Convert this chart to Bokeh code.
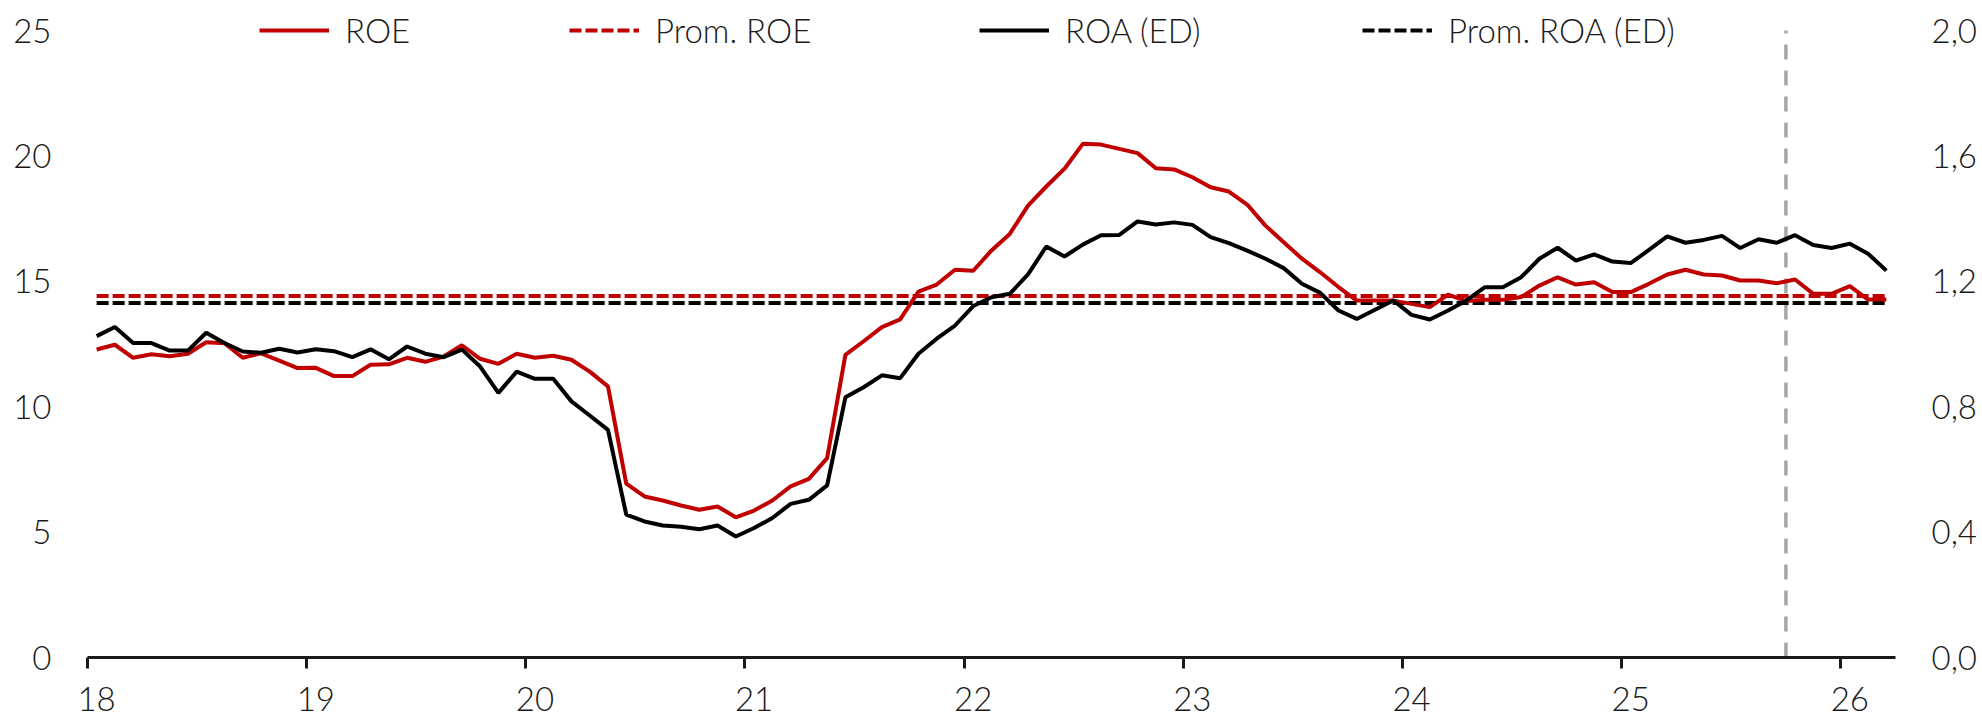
from bokeh.plotting import figure
from bokeh.models import (Range1d, LinearAxis, FixedTicker, CustomJSTickFormatter,
                          Legend, LegendItem)
from bokeh.embed import file_html
from bokeh.resources import INLINE

# ---- data (monthly, Jan-2018 .. Mar-2026) ----
roe = [12.28, 12.47, 11.95, 12.09, 12.01, 12.11, 12.57, 12.53, 11.95, 12.13, 11.84, 11.54,
       11.55, 11.22, 11.22, 11.67, 11.69, 11.95, 11.79, 12.00, 12.45, 11.91, 11.71, 12.11,
       11.95, 12.03, 11.87, 11.40, 10.81, 6.93, 6.42, 6.26, 6.06, 5.89, 6.02, 5.59,
       5.86, 6.26, 6.82, 7.12, 7.95, 12.07, 12.61, 13.17, 13.48, 14.59, 14.87, 15.46,
       15.42, 16.23, 16.89, 18.02, 18.78, 19.49, 20.48, 20.45, 20.28, 20.11, 19.51, 19.46,
       19.15, 18.75, 18.58, 18.06, 17.22, 16.56, 15.90, 15.36, 14.77, 14.23, 14.23, 14.23,
       14.10, 13.97, 14.47, 14.21, 14.26, 14.26, 14.37, 14.83, 15.16, 14.87, 14.96, 14.57,
       14.57, 14.90, 15.27, 15.46, 15.27, 15.23, 15.03, 15.03, 14.92, 15.07, 14.50, 14.50,
       14.81, 14.27, 14.27]
roa = [1.025, 1.054, 1.003, 1.003, 0.979, 0.979, 1.036, 1.003, 0.976, 0.972, 0.985, 0.973,
       0.983, 0.977, 0.958, 0.983, 0.951, 0.992, 0.969, 0.958, 0.982, 0.928, 0.844, 0.912,
       0.889, 0.889, 0.817, 0.772, 0.726, 0.456, 0.434, 0.421, 0.417, 0.409, 0.421, 0.386,
       0.413, 0.445, 0.490, 0.503, 0.549, 0.830, 0.862, 0.900, 0.891, 0.969, 1.017, 1.059,
       1.121, 1.149, 1.160, 1.222, 1.311, 1.279, 1.317, 1.347, 1.348, 1.391, 1.381, 1.388,
       1.380, 1.341, 1.322, 1.298, 1.272, 1.242, 1.192, 1.163, 1.107, 1.080, 1.109, 1.139,
       1.093, 1.078, 1.107, 1.139, 1.181, 1.181, 1.213, 1.272, 1.307, 1.266, 1.286, 1.263,
       1.258, 1.300, 1.343, 1.323, 1.332, 1.345, 1.306, 1.334, 1.323, 1.347, 1.316, 1.306,
       1.320, 1.288, 1.234]
prom_roe = 14.41
prom_roa = 1.131
year_labels = ["18", "19", "20", "21", "22", "23", "24", "25", "26"]
left_ticks = [0, 5, 10, 15, 20, 25]
right_ticks = [0.0, 0.4, 0.8, 1.2, 1.6, 2.0]
left_max, right_max = 25, 2.0
marker_month = 93  # Oct-2025 boundary (dashed vertical marker)

RED = "#C00000"
TXT = "#1a1a1a"
FONT = "Lato Light, Lato"
FS = "33px"
LW = 4

FRAME_H = 653
PX_PER_UNIT = 25.08
top_pad = FRAME_H / PX_PER_UNIT / left_max   # headroom above 25 for the legend row

n = len(roe)
x = [i + 0.5 for i in range(n)]          # months since Jan-2018, mid-month
year_starts = [12 * k for k in range(len(year_labels))]
label_pos = [s + 0.5 for s in year_starts]

p = figure(frame_width=1808, frame_height=FRAME_H, output_backend="svg", toolbar_location=None,
           x_range=Range1d(0, n), y_range=Range1d(0, left_max * top_pad),
           x_axis_location=None, y_axis_location=None,
           min_border_left=87, min_border_right=85, min_border_top=4, min_border_bottom=62,
           background_fill_color="white", border_fill_color="white")
p.outline_line_color = None
p.grid.visible = False
p.extra_y_ranges = {"roa": Range1d(0, right_max * top_pad)}

# vertical dashed marker
p.line([marker_month, marker_month], [0, left_max], line_color="#A6A6A6", line_width=3.5,
       line_dash="15 11")

r_proa = p.line(x, [prom_roa] * n, line_color="black", line_width=LW, line_dash="12 4",
                y_range_name="roa")
r_proe = p.line(x, [prom_roe] * n, line_color=RED, line_width=LW, line_dash="12 4")
r_roe = p.line(x, roe, line_color=RED, line_width=LW)
r_roa = p.line(x, roa, line_color="black", line_width=LW, y_range_name="roa")

# x axis: year-boundary ticks drawn as minor ticks, labels mid-January
xax = LinearAxis(ticker=FixedTicker(ticks=label_pos, minor_ticks=year_starts))
xax.major_label_overrides = {pos: lab for pos, lab in zip(label_pos, year_labels)}
xax.major_tick_out = 0
xax.major_tick_in = 0
xax.major_tick_line_color = None
xax.minor_tick_out = 11
xax.minor_tick_in = 0
xax.minor_tick_line_color = "#1a1a1a"
xax.minor_tick_line_width = 3
xax.axis_line_color = "#1a1a1a"
xax.axis_line_width = 3
xax.major_label_standoff = 18
xax.major_label_text_font = FONT
xax.major_label_text_font_size = FS
xax.major_label_text_color = TXT
p.add_layout(xax, "below")

yl = LinearAxis(ticker=FixedTicker(ticks=left_ticks))
yr = LinearAxis(ticker=FixedTicker(ticks=right_ticks), y_range_name="roa",
                formatter=CustomJSTickFormatter(code="return tick.toFixed(1).replace('.', ',');"))
for ax in (yl, yr):
    ax.axis_line_color = None
    ax.major_tick_line_color = None
    ax.minor_tick_line_color = None
    ax.major_tick_out = 0
    ax.major_tick_in = 0
    ax.major_label_text_font = FONT
    ax.major_label_text_font_size = FS
    ax.major_label_text_color = TXT
yl.major_label_standoff = 36
yr.major_label_standoff = 36
p.add_layout(yl, "left")
p.add_layout(yr, "right")

# legend: four single-item legends positioned along the top row
legend_specs = [("ROE", r_roe, 172), ("Prom. ROE", r_proe, 482),
                ("ROA (ED)", r_roa, 892), ("Prom. ROA (ED)", r_proa, 1275)]
for lab, rend, lx in legend_specs:
    lg = Legend(items=[LegendItem(label=lab, renderers=[rend])], location=(lx, 607),
                orientation="horizontal", padding=0, margin=0, spacing=0,
                glyph_width=70, glyph_height=36, label_height=36, label_standoff=16,
                border_line_color=None, background_fill_alpha=0,
                label_text_font=FONT, label_text_font_size=FS, label_text_color=TXT)
    p.add_layout(lg, "center")

open("out.html", "w").write(file_html(p, INLINE))
